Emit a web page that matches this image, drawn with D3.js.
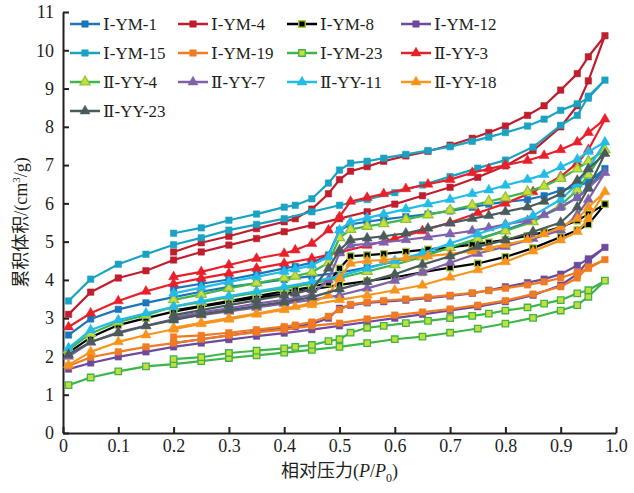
<!DOCTYPE html>
<html>
<head>
<meta charset="utf-8">
<script src="https://cdn.jsdelivr.net/npm/d3@7"></script>
<style>
  body{margin:0;background:#fff;}
</style>
</head>
<body>
<div id="chart"></div>
<script>
//Relative pressure of the adsorption points (shared by every sample)
var pAds=[0.01,0.05,0.1,0.15,0.2,0.25,0.3,0.35,0.4,0.45,0.5,0.55,0.6,0.65,0.7,0.75,0.8,0.85,0.9,0.93,0.95,0.98];
//Relative pressure of the desorption points, going back down from the top point
var pDes=[0.95,0.93,0.9,0.87,0.84,0.8,0.77,0.74,0.7,0.66,0.62,0.58,0.55,0.52,0.5,0.48,0.45,0.42,0.4,0.35,0.3,0.25,0.2];

var seriesNames=['Ⅰ-YM-1','Ⅰ-YM-4','Ⅰ-YM-8','Ⅰ-YM-12','Ⅰ-YM-15','Ⅰ-YM-19','Ⅰ-YM-23',
                 'Ⅱ-YY-3','Ⅱ-YY-4','Ⅱ-YY-7','Ⅱ-YY-11','Ⅱ-YY-18','Ⅱ-YY-23'];

//Cumulative volume (cm3/g), adsorption branch, one row per sample
var adsValues=[
  [2.56,2.98,3.23,3.4,3.55,3.69,3.82,3.91,4.01,4.1,4.19,4.32,4.48,4.65,4.85,5.05,5.3,5.55,5.9,6.15,6.4,6.91],
  [3.1,3.68,4.05,4.24,4.52,4.73,4.91,5.08,5.26,5.43,5.6,5.78,5.98,6.2,6.42,6.68,6.98,7.38,8.0,8.55,9.2,10.38],
  [2.1,2.5,2.82,3.0,3.17,3.3,3.42,3.53,3.63,3.75,3.87,3.97,4.07,4.2,4.32,4.43,4.6,4.83,5.12,5.3,5.45,5.98],
  [1.67,1.83,1.99,2.12,2.25,2.35,2.44,2.53,2.61,2.7,2.8,2.9,3.0,3.1,3.2,3.3,3.43,3.6,3.86,4.15,4.5,4.85],
  [3.45,4.02,4.41,4.67,4.92,5.1,5.3,5.45,5.6,5.78,5.95,6.1,6.28,6.48,6.7,6.92,7.13,7.47,8.04,8.3,8.8,9.22],
  [1.75,1.98,2.12,2.25,2.35,2.45,2.55,2.63,2.7,2.8,2.87,2.98,3.08,3.16,3.24,3.34,3.46,3.63,3.82,4.05,4.34,4.53],
  [1.25,1.45,1.61,1.74,1.8,1.88,1.96,2.03,2.1,2.17,2.25,2.35,2.45,2.52,2.62,2.73,2.86,3.01,3.2,3.34,3.56,3.98],
  [2.77,3.13,3.45,3.7,3.9,4.04,4.17,4.3,4.43,4.56,4.72,4.9,5.08,5.28,5.5,5.75,6.0,6.3,6.7,7.05,7.4,8.2],
  [2.17,2.6,2.9,3.08,3.3,3.42,3.55,3.67,3.78,3.9,4.05,4.22,4.4,4.6,4.85,5.08,5.28,5.52,5.95,6.35,6.75,7.4],
  [2.0,2.37,2.64,2.8,2.98,3.08,3.18,3.28,3.38,3.48,3.6,3.78,3.98,4.2,4.45,4.69,4.87,5.08,5.3,5.7,6.1,6.8],
  [2.22,2.69,2.95,3.13,3.3,3.45,3.58,3.7,3.82,3.95,4.1,4.3,4.5,4.7,4.95,5.2,5.43,5.68,6.1,6.5,6.9,7.6],
  [1.78,2.12,2.38,2.56,2.71,2.85,2.97,3.1,3.22,3.35,3.48,3.6,3.73,3.86,4.07,4.26,4.47,4.75,5.04,5.26,5.6,6.3],
  [2.05,2.38,2.61,2.8,2.95,3.1,3.21,3.32,3.42,3.55,3.76,3.95,4.15,4.4,4.62,4.87,5.04,5.26,5.5,5.9,6.4,7.3]
];

//Cumulative volume (cm3/g), desorption branch, same sample order
var desValues=[
  [6.56,6.45,6.34,6.2,6.1,6.04,5.98,5.9,5.8,5.72,5.65,5.58,5.52,5.45,5.3,4.65,4.45,4.35,4.3,4.15,4.01,3.9,3.78],
  [9.83,9.39,8.96,8.55,8.3,8.02,7.85,7.7,7.52,7.36,7.24,7.1,6.96,6.84,6.62,6.25,5.85,5.6,5.52,5.34,5.14,4.97,4.73],
  [5.72,5.55,5.38,5.25,5.15,5.05,4.98,4.92,4.85,4.8,4.74,4.68,4.65,4.62,4.3,3.92,3.82,3.74,3.7,3.58,3.45,3.32,3.2],
  [4.55,4.38,4.15,4.02,3.93,3.82,3.73,3.65,3.58,3.52,3.47,3.43,3.4,3.34,3.26,3.0,2.85,2.78,2.75,2.65,2.55,2.45,2.35],
  [8.75,8.6,8.43,8.2,8.02,7.85,7.73,7.62,7.48,7.38,7.28,7.18,7.1,7.05,6.87,6.53,6.12,5.95,5.9,5.72,5.56,5.36,5.22],
  [4.3,4.2,4.05,3.95,3.87,3.78,3.72,3.66,3.6,3.55,3.5,3.46,3.42,3.36,3.22,3.05,2.9,2.82,2.78,2.7,2.62,2.55,2.51],
  [3.73,3.65,3.47,3.38,3.28,3.2,3.12,3.06,3.0,2.93,2.87,2.8,2.75,2.62,2.45,2.4,2.3,2.25,2.21,2.15,2.09,1.98,1.93],
  [7.85,7.6,7.4,7.25,7.12,7.0,6.9,6.8,6.62,6.5,6.38,6.25,6.15,6.05,5.65,5.3,4.95,4.78,4.69,4.56,4.39,4.21,4.08],
  [7.1,6.9,6.65,6.45,6.3,6.15,6.05,5.95,5.82,5.7,5.58,5.47,5.4,5.32,5.1,4.45,4.2,4.1,4.05,3.92,3.78,3.62,3.48],
  [6.4,6.15,5.9,5.7,5.55,5.45,5.36,5.28,5.2,5.12,5.05,4.98,4.94,4.9,4.7,4.0,3.62,3.52,3.48,3.38,3.26,3.15,3.02],
  [7.35,7.15,6.95,6.75,6.62,6.47,6.35,6.25,6.1,5.98,5.85,5.72,5.62,5.52,5.3,4.6,4.38,4.28,4.22,4.08,3.95,3.8,3.65],
  [5.9,5.6,5.38,5.2,5.05,4.92,4.83,4.75,4.68,4.62,4.57,4.52,4.5,4.43,4.05,3.6,3.4,3.3,3.25,3.12,3.0,2.88,2.75],
  [6.9,6.6,6.25,6.05,5.9,5.78,5.68,5.6,5.48,5.35,5.22,5.14,5.09,5.04,4.78,4.3,3.75,3.65,3.6,3.47,3.34,3.21,3.08]
];

var xTicks=[0,0.1,0.2,0.3,0.4,0.5,0.6,0.7,0.8,0.9,1.0];
var yTicks=[0,1,2,3,4,5,6,7,8,9,10,11];

//Styles for each sample: line colour, marker shape, marker fill, marker edge
var lineColors=['#1c74bb','#be1e2d','#000000','#6c4a9e','#1aa2c2','#f07b22','#3db54a',
                '#e8202a','#3fb54a','#8062aa','#23bbe8','#f7941d','#4b5b5c'];
var markerShapes=['square','square','square','square','square','square','square',
                  'triangle','triangle','triangle','triangle','triangle','triangle'];
var markerFills=['#1c74bb','#be1e2d','#000000','#6c4a9e','#1aa2c2','#f07b22','#c9dd3a',
                 '#e8202a','#cddc39','#8062aa','#23bbe8','#f7941d','#4b5b5c'];
var markerEdges=['#1c74bb','#be1e2d','#a5c93c','#6c4a9e','#1aa2c2','#f07b22','#3db54a',
                 '#e8202a','#8cc63f','#8062aa','#23bbe8','#f7941d','#4b5b5c'];

var width=634, height=493;
var margin={top:12,right:18,bottom:60,left:63};
var serif='"Liberation Serif","DejaVu Serif","Noto Sans CJK SC",serif';

var svg=d3.select('#chart').append('svg')
  .attr('width',width)
  .attr('height',height)
  .style('font-family',serif);

var x=d3.scaleLinear().domain([0,1]).range([margin.left,width-margin.right]);
var y=d3.scaleLinear().domain([0,11]).range([height-margin.bottom,margin.top]);

//X axis (ticks pointing inward)
var gx=svg.append('g')
  .attr('transform','translate(0,'+y(0)+')')
  .call(d3.axisBottom(x).tickValues(xTicks).tickSizeInner(-6).tickSizeOuter(0).tickPadding(6)
        .tickFormat(d=>d===0?'0':d3.format('.1f')(d)));
//Y axis
var gy=svg.append('g')
  .attr('transform','translate('+x(0)+',0)')
  .call(d3.axisLeft(y).tickValues(yTicks).tickSizeInner(-6).tickSizeOuter(0).tickPadding(8));

[gx,gy].forEach(function(g){
  g.select('.domain').attr('stroke','#231f20').attr('stroke-width',2);
  g.selectAll('.tick line').attr('stroke','#231f20').attr('stroke-width',2);
  g.selectAll('.tick text').attr('fill','#231f20').style('font-size','18px').style('font-family',serif);
});
gy.selectAll('.tick text').attr('dx','-1px');

//Axis titles
var xt=svg.append('text')
  .attr('x',x(0.5)).attr('y',477)
  .attr('text-anchor','middle')
  .style('font-size','18px').attr('fill','#231f20');
xt.append('tspan').style('font-family','"Noto Sans CJK SC",sans-serif').text('相对压力');
xt.append('tspan').text('(');
xt.append('tspan').style('font-style','italic').text('P');
xt.append('tspan').text('/');
xt.append('tspan').style('font-style','italic').text('P');
xt.append('tspan').attr('dy',5).style('font-size','12px').text('0');
xt.append('tspan').attr('dy',-5).text(')');

var yt=svg.append('text')
  .attr('transform','translate(27,'+y(5.5)+') rotate(-90)')
  .attr('text-anchor','middle')
  .style('font-size','18px').attr('fill','#231f20');
yt.append('tspan').style('font-family','"Noto Sans CJK SC",sans-serif').text('累积体积');
yt.append('tspan').text('/(cm');
yt.append('tspan').attr('dy',-7).style('font-size','11px').text('3');
yt.append('tspan').attr('dy',7).text('/g)');

//Build the point list for each sample: adsorption up, then desorption back down
var seriesData=seriesNames.map(function(name,i){
  var pts=pAds.map((p,j)=>({p:p,v:adsValues[i][j]}));
  pDes.forEach((p,j)=>pts.push({p:p,v:desValues[i][j]}));
  return {name:name,i:i,points:pts};
});

var line=d3.line().x(d=>x(d.p)).y(d=>y(d.v));
var squareSym=d3.symbol().type(d3.symbolSquare).size(42);
var triSym=d3.symbol().type(d3.symbolTriangle).size(44);

function markerPath(i){ return markerShapes[i]==='square'?squareSym():triSym(); }

var plot=svg.append('g');
var groups=plot.selectAll('g.series')
  .data(seriesData)
  .join('g')
    .attr('class','series');

groups.append('path')
  .attr('d',d=>line(d.points))
  .attr('fill','none')
  .attr('stroke',d=>lineColors[d.i])
  .attr('stroke-width',2.2)
  .attr('stroke-linejoin','round');

groups.selectAll('path.mk')
  .data(d=>d.points.map(pt=>({p:pt.p,v:pt.v,i:d.i})))
  .join('path')
    .attr('class','mk')
    .attr('transform',d=>'translate('+x(d.p)+','+y(d.v)+')')
    .attr('d',d=>markerPath(d.i))
    .attr('fill',d=>markerFills[d.i])
    .attr('stroke',d=>markerEdges[d.i])
    .attr('stroke-width',d=>markerFills[d.i]===markerEdges[d.i]?0.5:1.3);

//Legend: 4 columns, no frame
var legendCols=[70,178,287,401];
var legendRows=[24,53,82,111];
var legend=svg.append('g');
var items=legend.selectAll('g')
  .data(seriesNames)
  .join('g')
    .attr('transform',(d,i)=>'translate('+legendCols[i%4]+','+legendRows[Math.floor(i/4)]+')');
items.append('line')
  .attr('x1',0).attr('x2',30).attr('y1',0).attr('y2',0)
  .attr('stroke',(d,i)=>lineColors[i]).attr('stroke-width',2.5);
items.append('path')
  .attr('transform','translate(15,0)')
  .attr('d',(d,i)=>markerPath(i))
  .attr('fill',(d,i)=>markerFills[i])
  .attr('stroke',(d,i)=>markerEdges[i])
  .attr('stroke-width',(d,i)=>markerFills[i]===markerEdges[i]?0.5:1.3);
items.append('text')
  .attr('x',33).attr('y',0).attr('dy','0.35em')
  .style('font-size','17px').attr('fill','#231f20')
  .text(d=>d);
</script>
</body>
</html>
